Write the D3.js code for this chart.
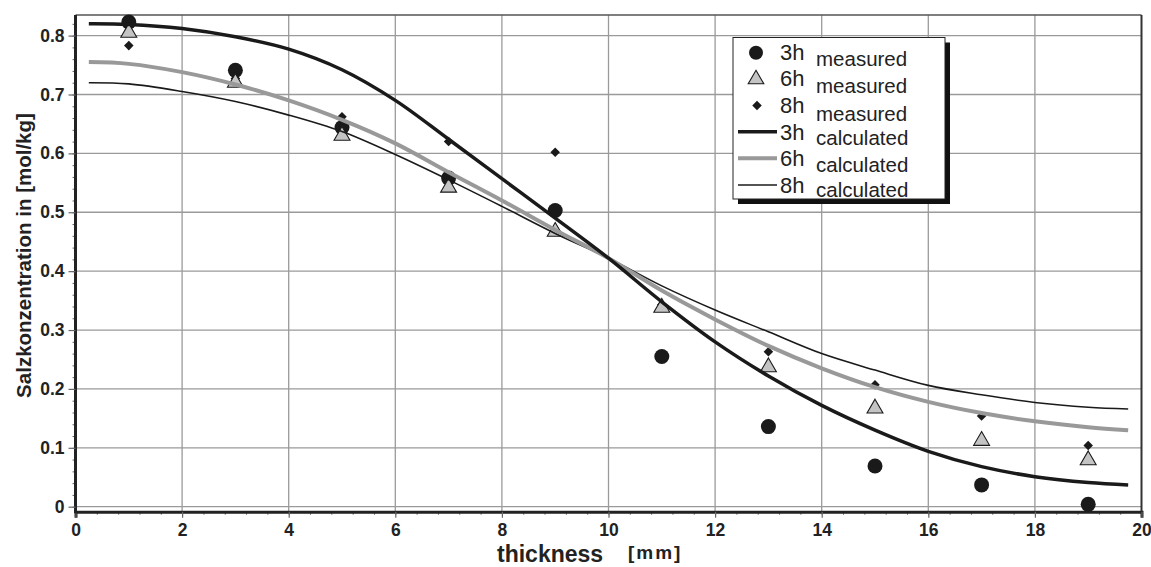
<!DOCTYPE html>
<html>
<head>
<meta charset="utf-8">
<script src="https://cdn.jsdelivr.net/npm/d3@7"></script>
<style>
  html, body { margin: 0; padding: 0; background: #fff; }
  svg { display: block; font-family: "Liberation Sans", Arial, sans-serif; }
</style>
</head>
<body>
<svg id="chart" width="1151" height="567"></svg>
<script>
// Measurement positions across the sample thickness [mm]
const positions = [1, 3, 5, 7, 9, 11, 13, 15, 17, 19];

// Measured salt concentration [mol/kg]
const measured3h = [0.823, 0.741, 0.644, 0.558, 0.503, 0.255, 0.136, 0.069, 0.037, 0.004];
const measured6h = [0.805, 0.720, 0.630, 0.542, 0.467, 0.338, 0.237, 0.167, 0.112, 0.079];
const measured8h = [0.783, 0.727, 0.662, 0.620, 0.602, 0.343, 0.263, 0.207, 0.154, 0.104];

// Calculated profiles
const calcX    = [0.25, 1, 2, 3, 4, 5, 6, 7, 8, 9, 10, 11, 12, 13, 14, 15, 16, 17, 18, 19, 19.75];
const calc3h   = [0.820, 0.819, 0.812, 0.798, 0.777, 0.742, 0.690, 0.624, 0.557, 0.490, 0.422, 0.348, 0.280, 0.222, 0.172, 0.130, 0.094, 0.068, 0.051, 0.041, 0.037];
const calc6h   = [0.755, 0.752, 0.738, 0.717, 0.690, 0.657, 0.617, 0.568, 0.520, 0.470, 0.422, 0.367, 0.318, 0.273, 0.235, 0.203, 0.178, 0.159, 0.145, 0.135, 0.130];
const calc8h   = [0.720, 0.718, 0.705, 0.688, 0.665, 0.637, 0.598, 0.555, 0.510, 0.464, 0.422, 0.375, 0.334, 0.297, 0.260, 0.232, 0.206, 0.190, 0.177, 0.169, 0.166];

const xTicks = [0, 2, 4, 6, 8, 10, 12, 14, 16, 18, 20];
const yTicks = [0, 0.1, 0.2, 0.3, 0.4, 0.5, 0.6, 0.7, 0.8];

const svg = d3.select("#chart");
const plotLeft = 75.5, plotRight = 1141.5, plotTop = 15, plotBottom = 511.7;

const x = d3.scaleLinear().domain([0, 20]).range([plotLeft, plotRight]);
const y = d3.scaleLinear().domain([-0.0085, 0.835]).range([plotBottom, plotTop]);

// Grid
const grid = svg.append("g");
grid.selectAll("line.h").data(yTicks).join("line")
  .attr("x1", plotLeft).attr("x2", plotRight)
  .attr("y1", d => y(d)).attr("y2", d => y(d))
  .attr("stroke", "#9a9a9a").attr("stroke-width", 1.3);
grid.selectAll("line.v").data(xTicks.slice(1, -1)).join("line")
  .attr("y1", plotTop).attr("y2", plotBottom)
  .attr("x1", d => x(d)).attr("x2", d => x(d))
  .attr("stroke", "#9a9a9a").attr("stroke-width", 1.3);

// Frame: top and right
svg.append("line").attr("x1", plotLeft).attr("x2", plotRight).attr("y1", plotTop).attr("y2", plotTop)
  .attr("stroke", "#555").attr("stroke-width", 1.6);
svg.append("line").attr("x1", plotRight).attr("x2", plotRight).attr("y1", plotTop).attr("y2", plotBottom)
  .attr("stroke", "#333").attr("stroke-width", 2);

// Axes
const xMinor = d3.range(0, 20.001, 0.4);
const yMinor = d3.range(0, 0.8301, 0.02);
const tickFont = g => g.selectAll(".tick text")
  .attr("font-size", 17.5).attr("font-weight", "bold").attr("fill", "#222")
  .attr("font-family", "Liberation Sans, Arial, sans-serif");

const xAxisG = svg.append("g").attr("transform", `translate(0,${plotBottom})`);
xAxisG.call(d3.axisBottom(x).tickValues(xMinor).tickSize(3).tickFormat(""));
xAxisG.select(".domain").remove();
xAxisG.selectAll(".tick line").attr("stroke", "#666").attr("stroke-width", 1);
const xMajor = svg.append("g").attr("transform", `translate(0,${plotBottom})`)
  .call(d3.axisBottom(x).tickValues(xTicks).tickSize(6).tickPadding(6).tickFormat(d3.format("d")));
xMajor.select(".domain").attr("stroke", "#222").attr("stroke-width", 3);
xMajor.selectAll(".tick line").attr("stroke", "#666").attr("stroke-width", 1.2);
xMajor.call(tickFont);

const yAxisG = svg.append("g").attr("transform", `translate(${plotLeft},0)`);
yAxisG.call(d3.axisLeft(y).tickValues(yMinor).tickSize(3).tickFormat(""));
yAxisG.select(".domain").remove();
yAxisG.selectAll(".tick line").attr("stroke", "#666").attr("stroke-width", 1);
const yMajor = svg.append("g").attr("transform", `translate(${plotLeft},0)`)
  .call(d3.axisLeft(y).tickValues(yTicks).tickSize(7).tickPadding(4)
    .tickFormat(d => d === 0 ? "0" : d3.format(".1f")(d)));
yMajor.select(".domain").attr("stroke", "#222").attr("stroke-width", 3)
  .attr("d", `M0,${plotTop}V${plotBottom + 1.5}`);
yMajor.selectAll(".tick line").attr("stroke", "#666").attr("stroke-width", 1.2);
yMajor.call(tickFont);

// Axis titles
svg.append("text")
  .attr("transform", `translate(31,${(113 + 398) / 2}) rotate(-90)`)
  .attr("text-anchor", "middle").attr("font-size", 20.5).attr("font-weight", "bold").attr("fill", "#222")
  .text("Salzkonzentration in [mol/kg]");
svg.append("text").attr("x", 497).attr("y", 562)
  .attr("font-size", 23).attr("font-weight", "bold").attr("fill", "#222").text("thickness");
svg.append("text").attr("x", 628).attr("y", 559)
  .attr("font-size", 19).attr("font-weight", "bold").attr("letter-spacing", 2).attr("fill", "#222").text("[mm]");

// Markers
const sym = (type, size) => d3.symbol().type(type).size(size)();
const pts = (vals) => positions.map((p, i) => [p, vals[i]]);

svg.append("g").selectAll("circle").data(pts(measured3h)).join("circle")
  .attr("cx", d => x(d[0])).attr("cy", d => y(d[1])).attr("r", 7.5)
  .attr("fill", "#1a1a1a");
svg.append("g").selectAll("path").data(pts(measured8h)).join("path")
  .attr("d", sym(d3.symbolDiamond2, 58))
  .attr("transform", d => `translate(${x(d[0])},${y(d[1])})`)
  .attr("fill", "#1a1a1a");
svg.append("g").selectAll("path").data(pts(measured6h)).join("path")
  .attr("d", sym(d3.symbolTriangle, 110))
  .attr("transform", d => `translate(${x(d[0])},${y(d[1])})`)
  .attr("fill", "#c4c4c4").attr("stroke", "#1a1a1a").attr("stroke-width", 1.1);

// Calculated curves
const line = d3.line().x(d => x(d[0])).y(d => y(d[1])).curve(d3.curveCatmullRom.alpha(0.5));
const curve = (vals) => calcX.map((c, i) => [c, vals[i]]);
svg.append("path").datum(curve(calc8h)).attr("d", line)
  .attr("fill", "none").attr("stroke", "#1a1a1a").attr("stroke-width", 1.6);
svg.append("path").datum(curve(calc6h)).attr("d", line)
  .attr("fill", "none").attr("stroke", "#999").attr("stroke-width", 4);
svg.append("path").datum(curve(calc3h)).attr("d", line)
  .attr("fill", "none").attr("stroke", "#1a1a1a").attr("stroke-width", 3.5);

// Legend
const legendItems = [
  { hour: "3h", kind: "measured", mark: "circle" },
  { hour: "6h", kind: "measured", mark: "triangle" },
  { hour: "8h", kind: "measured", mark: "diamond" },
  { hour: "3h", kind: "calculated", mark: "thick" },
  { hour: "6h", kind: "calculated", mark: "grey" },
  { hour: "8h", kind: "calculated", mark: "thin" }
];
const lg = svg.append("g");
const lx = 733, ly = 37.5, lw = 212, lh = 161.5;
lg.append("rect").attr("x", lx + 5).attr("y", ly + 5).attr("width", lw).attr("height", lh).attr("fill", "#111");
lg.append("rect").attr("x", lx).attr("y", ly).attr("width", lw).attr("height", lh)
  .attr("fill", "#fff").attr("stroke", "#222").attr("stroke-width", 1);
const symY = [52.7, 79.3, 105.5, 131.7, 158.3, 185];
const hourBase = [59.5, 86, 113, 139.5, 166.3, 193];
const kindBase = [66, 93, 120.5, 145, 171.5, 196.5];
legendItems.forEach((it, i) => {
  const cy = symY[i];
  const g = lg.append("g");
  if (it.mark === "circle") g.append("circle").attr("cx", 756).attr("cy", cy).attr("r", 7).attr("fill", "#1a1a1a");
  if (it.mark === "triangle") g.append("path").attr("d", sym(d3.symbolTriangle, 105))
    .attr("transform", `translate(756,${cy})`).attr("fill", "#c4c4c4").attr("stroke", "#1a1a1a").attr("stroke-width", 1.1);
  if (it.mark === "diamond") g.append("path").attr("d", sym(d3.symbolDiamond2, 58))
    .attr("transform", `translate(757,${cy})`).attr("fill", "#1a1a1a");
  const ls = { thick: ["#1a1a1a", 3.5], grey: ["#999", 4], thin: ["#1a1a1a", 1.6] }[it.mark];
  if (ls) g.append("line").attr("x1", 738).attr("x2", 777).attr("y1", cy).attr("y2", cy)
    .attr("stroke", ls[0]).attr("stroke-width", ls[1]);
  g.append("text").attr("x", 780).attr("y", hourBase[i]).attr("font-size", 22).attr("fill", "#222").text(it.hour);
  g.append("text").attr("x", 816).attr("y", kindBase[i]).attr("font-size", 20.5).attr("fill", "#222").text(it.kind);
});
</script>
</body>
</html>
